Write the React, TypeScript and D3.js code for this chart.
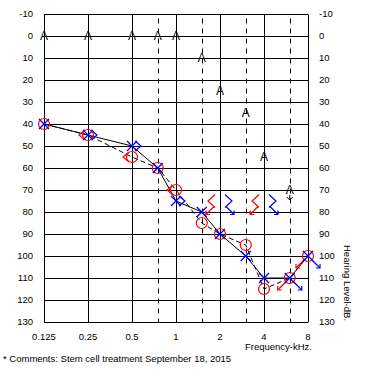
import React from "react";
import * as d3 from "d3";

const gridFreqs = [0.125, 0.25, 0.5, 1, 2, 4, 8];
const interFreqs = [0.75, 1.5, 3, 6];
const freqLabels = ["0.125", "0.25", "0.5", "1", "2", "4", "8"];
const dbTicks = [-10, 0, 10, 20, 30, 40, 50, 60, 70, 80, 90, 100, 110, 120, 130];

const airFreqs = [0.125, 0.25, 0.5, 0.75, 1, 1.5, 2, 3, 4, 6, 8];
const rightAir = [40, 45, 55, 60, 70, 85, 90, 95, 115, 110, 100];
const leftAir = [40, 45, 50, 60, 75, 80, 90, 100, 110, 110, 100];
const airNoResponse = [false, false, false, false, false, false, false, false, false, true, true];

const boneFreqs = [0.25, 0.5, 1, 2, 4];
const rightBone = [45, 55, 70, 75, 75];
const leftBone = [45, 50, 75, 75, 75];
const boneNoResponse = [false, false, false, true, true];

const sfFreqs = [0.125, 0.25, 0.5, 0.75, 1, 1.5, 2, 3, 4, 6];
const soundField = [0, 0, 0, 0, 0, 10, 25, 35, 55, 70];
const sfNoResponse = [false, false, false, false, false, false, false, false, false, true];

const RED = "#ff0000";
const BLUE = "#0000ff";
const FONT = "'Liberation Sans', Arial, sans-serif";

export default function App() {
  const x = d3.scaleLog().base(2).domain([0.125, 8]).range([44, 308]);
  const y = d3.scaleLinear().domain([-10, 130]).range([14, 322]);
  const px = (v: number) => Math.round(x(v)) + 0.5;
  const py = (v: number) => Math.round(y(v)) + 0.5;

  const line = d3
    .line<number>()
    .x((_, i) => x(airFreqs[i]))
    .y((d) => y(d));

  const arrow = (x0: number, y0: number, dir: number, color: string, key: string) => {
    // dir -1: down-left, +1: down-right
    const x1 = x0 + dir * 8;
    const y1 = y0 + 8;
    return (
      <g key={key} stroke={color} strokeWidth={1.2} fill="none">
        <line x1={x0} y1={y0} x2={x1} y2={y1} />
        <path d={`M${x1},${y1 - 4} L${x1},${y1} L${x1 - dir * 4},${y1}`} />
      </g>
    );
  };

  return (
    <svg
      width={370}
      height={380}
      style={{ position: "absolute", left: 0, top: 0, background: "#fff" }}
      fontFamily={FONT}
    >
      <rect x={0} y={0} width={370} height={380} fill="#fff" />
      {/* horizontal grid */}
      {dbTicks.map((t) => (
        <line key={"h" + t} x1={44} x2={308} y1={py(t)} y2={py(t)} stroke="#000" strokeWidth={1} />
      ))}
      {/* vertical grid */}
      {gridFreqs.map((f) => (
        <line key={"v" + f} x1={px(f)} x2={px(f)} y1={py(-10)} y2={py(130)} stroke="#000" strokeWidth={1} />
      ))}
      {interFreqs.map((f) => (
        <line
          key={"d" + f}
          x1={px(f)}
          x2={px(f)}
          y1={py(-10) + 4}
          y2={py(130)}
          stroke="#000"
          strokeWidth={1}
          strokeDasharray="5,5"
        />
      ))}
      {/* y labels */}
      {dbTicks.map((t) => (
        <text key={"yl" + t} x={33} y={y(t)} dy="0.35em" textAnchor="end" fontSize={9.5}>
          {t}
        </text>
      ))}
      {dbTicks.map((t) => (
        <text key={"yr" + t} x={319} y={y(t)} dy="0.35em" textAnchor="start" fontSize={9.5}>
          {t}
        </text>
      ))}
      {/* x labels */}
      {gridFreqs.map((f, i) => (
        <text key={"xl" + f} x={x(f)} y={340} textAnchor="middle" fontSize={9.5}>
          {freqLabels[i]}
        </text>
      ))}
      <text x={312} y={350} textAnchor="end" fontSize={9.5}>
        Frequency-kHz.
      </text>
      <text transform="translate(344,283) rotate(90)" textAnchor="middle" fontSize={9.5}>
        Hearing Level-dB.
      </text>
      <text x={3} y={362} fontSize={9.5}>
        * Comments: Stem cell treatment September 18, 2015
      </text>

      {/* sound field */}
      {sfFreqs.map((f, i) => (
        <g key={"sf" + f}>
          <text x={x(f)} y={y(soundField[i])} dy="0.36em" textAnchor="middle" fontSize={12}>
            A
          </text>
          {sfNoResponse[i] && (
            <path
              d={`M${x(f)},${y(soundField[i]) + 5} L${x(f)},${y(soundField[i]) + 10} M${x(f) - 3},${
                y(soundField[i]) + 7
              } L${x(f)},${y(soundField[i]) + 10} L${x(f) + 3},${y(soundField[i]) + 7}`}
              stroke="#000"
              fill="none"
            />
          )}
        </g>
      ))}

      {/* connecting lines */}
      <path d={line(leftAir) || ""} stroke="#000" fill="none" strokeWidth={1} />
      <path d={line(rightAir) || ""} stroke="#000" fill="none" strokeWidth={1} strokeDasharray="5,3" />

      {/* bone conduction */}
      {boneFreqs.map((f, i) => {
        const nr = boneNoResponse[i];
        const a = nr ? 12 : 9;
        const o = nr ? 5 : 3;
        const h = nr ? 6.5 : 5;
        const cx = x(f);
        const cyR = y(rightBone[i]);
        const cyL = y(leftBone[i]);
        return (
          <g key={"b" + f}>
            <path
              d={`M${cx - o},${cyR - h} L${cx - a},${cyR} L${cx - o},${cyR + h}`}
              stroke={RED}
              fill="none"
              strokeWidth={1.2}
            />
            <path
              d={`M${cx + o},${cyL - h} L${cx + a},${cyL} L${cx + o},${cyL + h}`}
              stroke={BLUE}
              fill="none"
              strokeWidth={1.2}
            />
            {nr && arrow(cx - o - 1, cyR + h - 1, -1, RED, "bra" + f)}
            {nr && arrow(cx + o + 1, cyL + h - 1, 1, BLUE, "bla" + f)}
          </g>
        );
      })}

      {/* air conduction symbols */}
      {airFreqs.map((f, i) => {
        const cx = x(f);
        const cy = y(rightAir[i]);
        return (
          <g key={"ra" + f}>
            <circle cx={cx} cy={cy} r={5.5} stroke={RED} fill="none" strokeWidth={1.2} />
            {airNoResponse[i] && arrow(cx - 4, cy + 4, -1, RED, "rna" + f)}
          </g>
        );
      })}
      {airFreqs.map((f, i) => {
        const cx = x(f);
        const cy = y(leftAir[i]);
        return (
          <g key={"la" + f}>
            <path
              d={`M${cx - 5},${cy - 5} L${cx + 5},${cy + 5} M${cx + 5},${cy - 5} L${cx - 5},${cy + 5}`}
              stroke={BLUE}
              strokeWidth={1.3}
            />
            {airNoResponse[i] && arrow(cx + 4, cy + 4, 1, BLUE, "lna" + f)}
          </g>
        );
      })}
    </svg>
  );
}
